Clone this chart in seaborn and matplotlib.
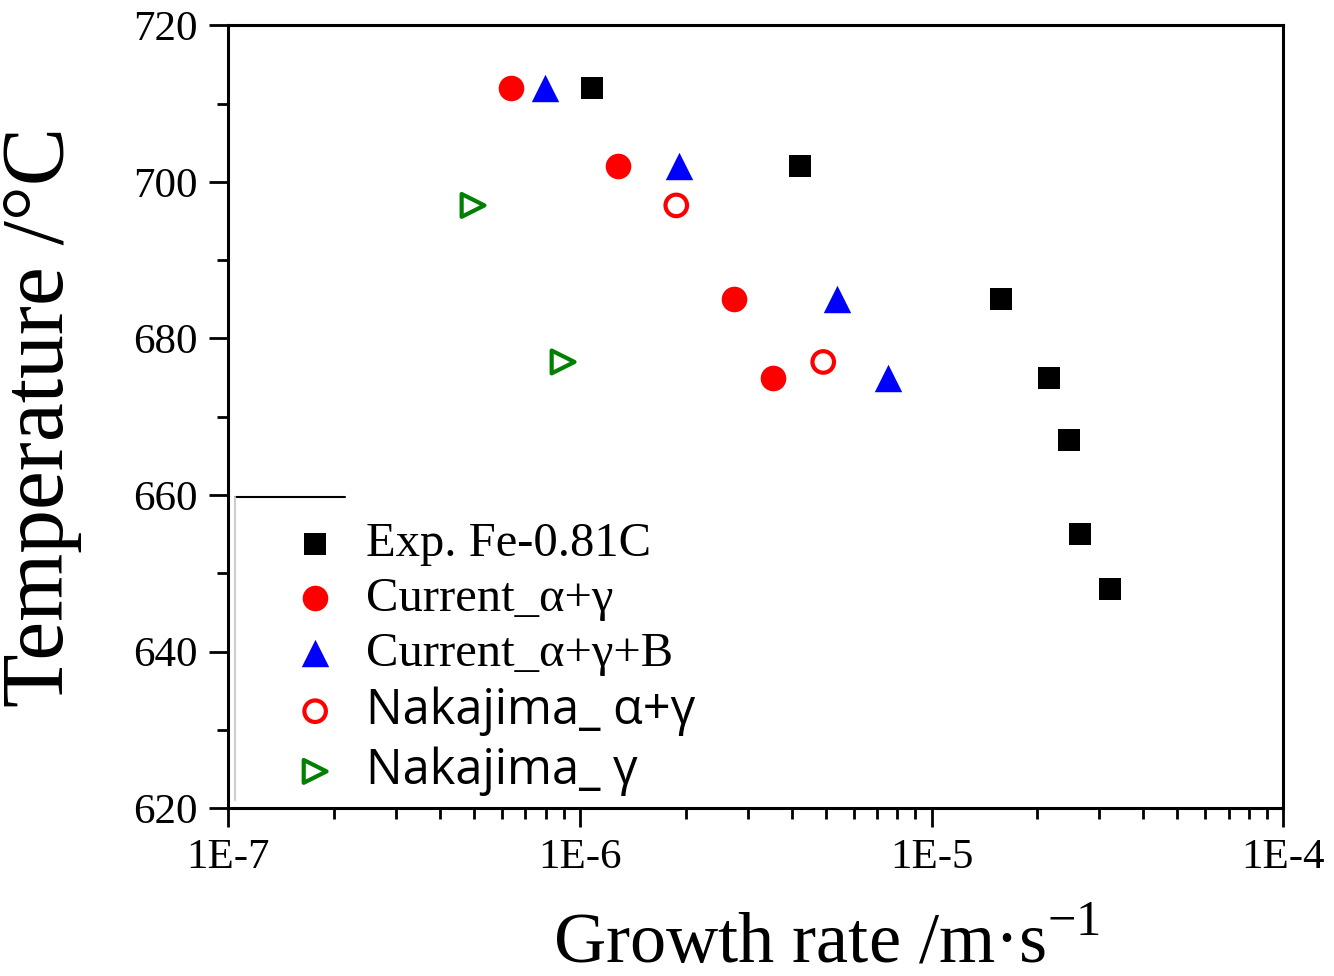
import matplotlib
matplotlib.use("Agg")
import matplotlib.pyplot as plt
import seaborn as sns
import numpy as np
import pandas as pd
from matplotlib.ticker import LogLocator, NullFormatter, FixedLocator, MultipleLocator

# ---- data ----
exp_rate = [1.08e-6, 4.23e-6, 1.58e-5, 2.16e-5, 2.46e-5, 2.65e-5, 3.22e-5]
exp_temp = [712, 702, 685, 675, 667, 655, 648]

cur_ag_rate = [6.38e-7, 1.28e-6, 2.75e-6, 3.55e-6]
cur_ag_temp = [712, 702, 685, 675]

cur_agb_rate = [7.96e-7, 1.92e-6, 5.39e-6, 7.52e-6]
cur_agb_temp = [712, 702, 685, 675]

nak_ag_rate = [1.88e-6, 4.92e-6]
nak_ag_temp = [697, 677]

nak_g_rate = [4.97e-7, 8.96e-7]
nak_g_temp = [697, 677]

labels = ["Exp. Fe-0.81C", "Current_α+γ", "Current_α+γ+B", "Nakajima_ α+γ", "Nakajima_ γ"]
xtick_vals = [1e-7, 1e-6, 1e-5, 1e-4]
xtick_labels = ["1E-7", "1E-6", "1E-5", "1E-4"]
ytick_vals = [620, 640, 660, 680, 700, 720]

sns.set_style("ticks")
plt.rcParams['font.family'] = ['Liberation Serif', 'DejaVu Serif']
plt.rcParams['mathtext.fontset'] = 'custom'
plt.rcParams['mathtext.rm'] = 'Liberation Serif'
plt.rcParams['text.color'] = 'black'
plt.rcParams['axes.labelcolor'] = 'black'
plt.rcParams['xtick.color'] = 'black'
plt.rcParams['ytick.color'] = 'black'

fig = plt.figure(figsize=(13.34, 9.76), dpi=100)
ax = fig.add_axes([0.171, 0.172, 0.791, 0.802])

sns.scatterplot(x=exp_rate, y=exp_temp, ax=ax, marker='s', color='black', s=250,
                edgecolor='black', linewidth=0, label=labels[0], zorder=3)
sns.scatterplot(x=cur_ag_rate, y=cur_ag_temp, ax=ax, marker='o', color='red', s=340,
                edgecolor='red', linewidth=0, label=labels[1], zorder=3)
sns.scatterplot(x=cur_agb_rate, y=cur_agb_temp, ax=ax, marker='^', color='blue', s=390,
                edgecolor='blue', linewidth=0, label=labels[2], zorder=3)
sns.scatterplot(x=nak_ag_rate, y=nak_ag_temp, ax=ax, marker='o', s=240,
                facecolor='none', edgecolor='red', linewidth=3, label=labels[3], zorder=3)
sns.scatterplot(x=nak_g_rate, y=nak_g_temp, ax=ax, marker='>', s=270,
                facecolor='none', edgecolor='green', linewidth=3, label=labels[4], zorder=3)

ax.set_xscale('log')
ax.set_xlim(1e-7, 1e-4)
ax.set_ylim(620, 720)

ax.xaxis.set_major_locator(FixedLocator(xtick_vals))
ax.set_xticklabels(xtick_labels)
ax.xaxis.set_minor_locator(LogLocator(base=10, subs=np.arange(2, 10)))
ax.xaxis.set_minor_formatter(NullFormatter())
ax.yaxis.set_major_locator(FixedLocator(ytick_vals))
ax.yaxis.set_minor_locator(MultipleLocator(10))

for sp in ax.spines.values():
    sp.set_linewidth(2.2)
    sp.set_color('black')
ax.tick_params(axis='both', which='major', direction='out', length=14, width=2,
               labelsize=31, top=False, right=False, pad=8, colors='black')
ax.tick_params(axis='both', which='minor', direction='out', length=8, width=2,
               top=False, right=False, colors='black')

ax.set_xlabel("Growth rate /m·s$^{\\mathregular{-1}}$", fontsize=52)
ax.set_ylabel("Temperature /°C", fontsize=63)
ax.xaxis.set_label_coords(0.567, -0.133)
ax.yaxis.set_label_coords(-0.138, 0.5)

leg = ax.legend(loc='upper left', bbox_to_anchor=(0.041, 0.39), frameon=False,
                fontsize=35, handletextpad=0.55, labelspacing=0.22, borderaxespad=0,
                handlelength=1.0)
for t in leg.get_texts():
    t.set_color('black')
for t in leg.get_texts()[3:]:
    t.set_family(['Open Sans', 'DejaVu Sans'])

# partial legend frame remnants
ax.plot([0.0066, 0.111], [0.397, 0.397], transform=ax.transAxes, color='black', lw=1.5, zorder=2)
ax.plot([0.0066, 0.0066], [0.397, 0.01], transform=ax.transAxes, color='#cccccc', lw=1.5, zorder=2)

fig.savefig("out.png", dpi=100)
